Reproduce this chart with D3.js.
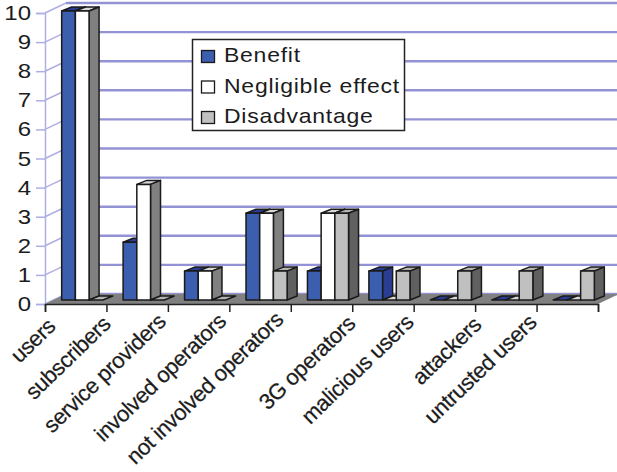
<!DOCTYPE html>
<html>
<head>
<meta charset="utf-8">
<script src="https://cdnjs.cloudflare.com/ajax/libs/d3/7.8.5/d3.min.js"></script>
<style>
  html, body { margin: 0; padding: 0; background: #fff; }
  svg { display: block; }
  text { font-family: "Liberation Sans", Arial, sans-serif; fill: #1c1c1c; }
</style>
</head>
<body>
<svg id="chart" width="617" height="472"></svg>
<script>
const categories = ['users', 'subscribers', 'service providers', 'involved operators',
	'not involved operators', '3G operators', 'malicious users', 'attackers', 'untrusted users'];
const seriesNames = ['Benefit', 'Negligible effect', 'Disadvantage'];
const benefit = [10, 2, 1, 3, 1, 1, 0, 0, 0];
const negligible = [10, 4, 1, 3, 3, 0, 0, 0, 0];
const disadvantage = [0, 0, 0, 1, 3, 1, 1, 1, 1];
const yTicks = [0, 1, 2, 3, 4, 5, 6, 7, 8, 9, 10];

// face colours of each series: front, side, top
const faces = [
	{front: '#3c5eae', side: '#2a3d94', top: '#2a3d94'},
	{front: '#ffffff', side: '#808080', top: '#d8d8d8'},
	{front: '#c0c0c0', side: '#606060', top: '#b4b4b4'}
];
const gridColor = '#9292d4', wallColor = '#aeaee6', ink = '#1a1a1a';

// depth of the floor and of one bar
const wallDx = 21, wallDy = 10, barDx = 10, barDy = 4;
const barShift = 6.5;

const svg = d3.select('#chart');
const values = [benefit, negligible, disadvantage];

const xScale = d3.scaleBand().domain(categories).range([45, 598]);
const xEdges = d3.scaleLinear().domain([0, categories.length]).range([45, 598]);
const yScale = d3.scaleLinear().domain([0, 10]).range([304, 13]);
// bars stand a little behind the front edge of the floor
const yBar = d3.scaleLinear().domain([0, 10]).range([300, 11]);
const barWidth = 13.7;
const groupPad = (xScale.bandwidth() - barWidth * 3) / 2;

// back wall gridlines and the left wall
svg.append('g').selectAll('line').data(yTicks).enter().append('line')
	.attr('x1', 45 + wallDx).attr('x2', 617)
	.attr('y1', d => yScale(d) - wallDy).attr('y2', d => yScale(d) - wallDy)
	.attr('stroke', gridColor).attr('stroke-width', 2.4);
svg.append('g').selectAll('line').data(yTicks).enter().append('line')
	.attr('x1', 45).attr('x2', 45 + wallDx)
	.attr('y1', d => yScale(d)).attr('y2', d => yScale(d) - wallDy)
	.attr('stroke', wallColor).attr('stroke-width', 1.5);

// floor
svg.append('path')
	.attr('d', d3.line()([
		[45, yScale(0)], [45 + wallDx, yScale(0) - wallDy],
		[598 + wallDx, yScale(0) - wallDy], [598, yScale(0)]
	]))
	.attr('fill', '#808080');

// value axis, numbers are drawn a bit wide
const yAxis = svg.append('g').attr('transform', 'translate(45,0)')
	.call(d3.axisLeft(yScale).tickValues(yTicks).tickSize(9).tickPadding(0).tickFormat(''));
yAxis.selectAll('.domain, line').attr('stroke', wallColor).attr('stroke-width', 1.5);
svg.append('g').selectAll('text').data(yTicks).enter().append('text')
	.attr('transform', d => 'translate(31,' + (yScale(d) + 7) + ') scale(1.2,1)')
	.attr('text-anchor', 'end')
	.style('font-size', '20px')
	.text(d => d);

// category axis, ticks sit between the groups
const xAxis = svg.append('g').attr('transform', 'translate(0,' + yScale(0) + ')')
	.call(d3.axisBottom(xEdges).ticks(categories.length).tickSize(8).tickFormat(''));
xAxis.selectAll('.domain, line').attr('stroke', '#222').attr('stroke-width', 1.5);

// bars, left to right so a later bar hides the side of the one before
categories.forEach(function(cat, c) {
	values.forEach(function(serie, s) {
		const v = serie[c];
		const x0 = xScale(cat) + groupPad + barShift + s * barWidth, x1 = x0 + barWidth;
		const yb = yBar(0), yt = yBar(v);
		const g = svg.append('g').attr('stroke', ink).attr('stroke-width', 1.5).attr('stroke-linejoin', 'round');
		g.append('path').attr('fill', faces[s].top)
			.attr('d', d3.line()([[x0, yt], [x0 + barDx, yt - barDy], [x1 + barDx, yt - barDy], [x1, yt]]) + 'Z');
		if (v > 0) {
			g.append('path').attr('fill', faces[s].side)
				.attr('d', d3.line()([[x1, yt], [x1 + barDx, yt - barDy], [x1 + barDx, yb - barDy], [x1, yb]]) + 'Z');
			g.append('rect').attr('x', x0).attr('y', yt).attr('width', barWidth).attr('height', yb - yt)
				.attr('fill', faces[s].front);
		}
	});
});

// rotated category labels, longer names slide further down the axis
svg.append('g').selectAll('text').data(categories).enter().append('text')
	.attr('transform', d => 'translate(' + (xScale(d) + 17 - 1.05 * d.length) + ',' + (330 - 0.4 * d.length) + ') rotate(-44)')
	.attr('text-anchor', 'end')
	.style('font-size', '22px')
	.style('letter-spacing', '-0.4px')
	.attr('stroke', '#1c1c1c').attr('stroke-width', 0.25)
	.text(d => d);

// legend
const legend = svg.append('g');
legend.append('rect').attr('x', 192.5).attr('y', 39.5).attr('width', 212).attr('height', 91)
	.attr('fill', '#fff').attr('stroke', '#222').attr('stroke-width', 1.5);
const legendRow = d3.scalePoint().domain(seriesNames).range([62, 123]);
seriesNames.forEach(function(name, s) {
	legend.append('rect').attr('x', 201.5).attr('y', legendRow(name) - 11.5).attr('width', 13).attr('height', 12)
		.attr('fill', faces[s].front).attr('stroke', ink).attr('stroke-width', 1.3);
	legend.append('text').attr('transform', 'translate(224,' + legendRow(name) + ') scale(1.15,1)')
		.style('font-size', '20px').style('letter-spacing', '0.65px').text(name);
});
</script>
</body>
</html>
